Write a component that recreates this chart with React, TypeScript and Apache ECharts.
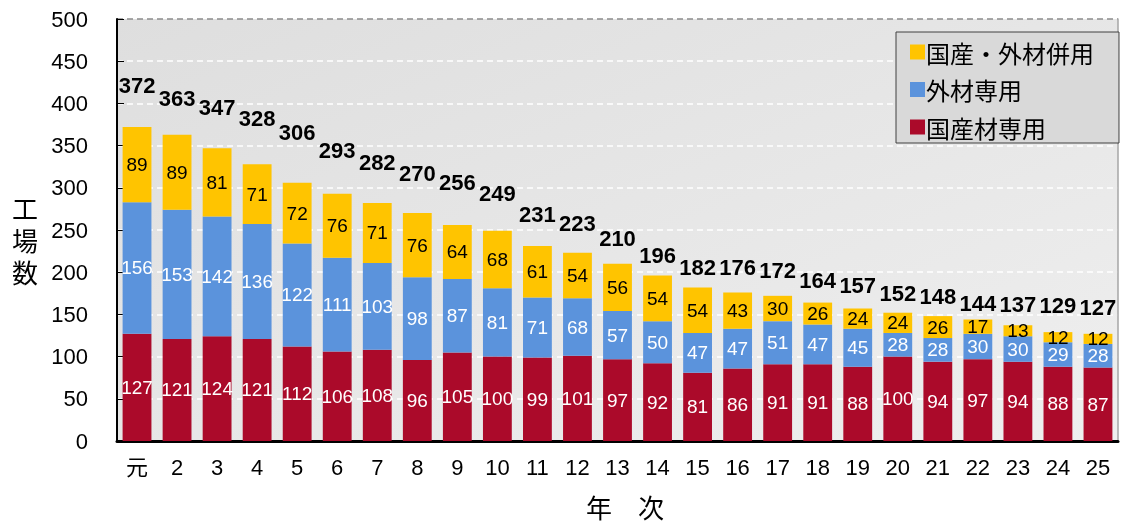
import React, { useEffect, useRef } from "react";
import * as echarts from "echarts";

const categories = ["元", "2", "3", "4", "5", "6", "7", "8", "9", "10", "11", "12", "13", "14", "15", "16", "17", "18", "19", "20", "21", "22", "23", "24", "25"];
const domesticOnly = [127, 121, 124, 121, 112, 106, 108, 96, 105, 100, 99, 101, 97, 92, 81, 86, 91, 91, 88, 100, 94, 97, 94, 88, 87];
const importedOnly = [156, 153, 142, 136, 122, 111, 103, 98, 87, 81, 71, 68, 57, 50, 47, 47, 51, 47, 45, 28, 28, 30, 30, 29, 28];
const mixed = [89, 89, 81, 71, 72, 76, 71, 76, 64, 68, 61, 54, 56, 54, 54, 43, 30, 26, 24, 24, 26, 17, 13, 12, 12];
const totals = [372, 363, 347, 328, 306, 293, 282, 270, 256, 249, 231, 223, 210, 196, 182, 176, 172, 164, 157, 152, 148, 144, 137, 129, 127];
const yTicks = [0, 50, 100, 150, 200, 250, 300, 350, 400, 450, 500];

// style: how far (px) each total label sits above its bar top
const totalLabelLift = [41, 36, 40, 45, 50, 43, 40, 39, 42, 37, 31, 29, 25, 20, 19, 24, 25, 22, 22, 19, 19, 15, 20, 26, 26];

const NAME_MIX = "国産・外材併用";
const NAME_IMP = "外材専用";
const NAME_DOM = "国産材専用";

const JP = '"Noto Sans CJK JP", sans-serif';
const NUM = '"Liberation Sans", "Noto Sans CJK JP", sans-serif';

export default function App() {
  const ref = useRef<HTMLDivElement>(null);
  useEffect(() => {
    if (!ref.current) return;
    const chart = echarts.init(ref.current, null, { renderer: "svg" });
    const splitColors = yTicks.map((v, i) => (i === yTicks.length - 1 ? "#8c8c8c" : "#ffffff"));
    const innerLabel = (color: string) => ({
      show: true,
      position: "inside" as const,
      color,
      fontSize: 19,
      fontFamily: NUM,
    });
    chart.setOption({
      animation: false,
      textStyle: { fontFamily: JP },
      grid: {
        left: 117,
        top: 19,
        right: 5,
        bottom: 81,
        show: true,
        borderWidth: 0,
        backgroundColor: {
          type: "linear",
          x: 0, y: 0, x2: 1, y2: 1,
          colorStops: [
            { offset: 0, color: "#dedede" },
            { offset: 1, color: "#efefef" },
          ],
        },
      },
      legend: {
        data: [NAME_MIX, NAME_IMP, NAME_DOM],
        orient: "vertical",
        left: 896,
        top: 32,
        padding: [8, 25, 4, 14],
        itemGap: 13.5,
        itemWidth: 15,
        itemHeight: 15,
        icon: "rect",
        backgroundColor: "#d9d9d9",
        borderColor: "#404040",
        borderWidth: 1,
        textStyle: { fontSize: 24, lineHeight: 24, color: "#000", fontFamily: JP, padding: [0, 0, 0, -4] },
      },
      xAxis: {
        type: "category",
        data: categories,
        axisLine: { lineStyle: { color: "#000", width: 3 } },
        axisTick: { inside: true, length: 7, lineStyle: { color: "#000", width: 1 } },
        axisLabel: { color: "#000", fontSize: 22, fontFamily: NUM, margin: 15 },
      },
      yAxis: [
        {
          type: "value",
          min: 0,
          max: 500,
          interval: 50,
          axisLine: { show: true, lineStyle: { color: "#000", width: 2 } },
          axisTick: { show: true, inside: true, length: 7, lineStyle: { color: "#000" } },
          axisLabel: { color: "#000", fontSize: 22, fontFamily: NUM, margin: 29 },
          splitLine: { show: true, lineStyle: { color: splitColors, type: [6, 4], width: 1.5 } },
        },
        {
          type: "value",
          min: 0,
          max: 500,
          interval: 50,
          position: "right",
          axisLine: { show: true, lineStyle: { color: "#a6a6a6", width: 1.5 } },
          axisTick: { show: false },
          axisLabel: { show: false },
          splitLine: { show: false },
        },
      ],
      series: [
        {
          name: NAME_DOM,
          type: "bar",
          stack: "t",
          barWidth: "72%",
          data: domesticOnly,
          itemStyle: { color: "#ab0a2a" },
          label: innerLabel("#ffffff"),
        },
        {
          name: NAME_IMP,
          type: "bar",
          stack: "t",
          barWidth: "72%",
          data: importedOnly,
          itemStyle: { color: "#5b93dc" },
          label: innerLabel("#ffffff"),
        },
        {
          name: NAME_MIX,
          type: "bar",
          stack: "t",
          barWidth: "72%",
          data: mixed,
          itemStyle: { color: "#ffc400" },
          label: innerLabel("#000000"),
        },
        {
          name: "合計",
          type: "line",
          data: totals.map((v, i) => ({
            value: v,
            label: { offset: [0, -(totalLabelLift[i] - 11)] },
          })),
          symbol: "circle",
          symbolSize: 1,
          itemStyle: { color: "transparent" },
          lineStyle: { opacity: 0 },
          z: 5,
          label: {
            show: true,
            position: "top",
            distance: 0,
            color: "#000",
            fontSize: 22,
            fontWeight: "bold",
            fontFamily: NUM,
          },
        },
      ],
      graphic: [
        {
          type: "text",
          left: 12,
          top: 191,
          style: {
            text: "工\n場\n数",
            fontSize: 26,
            lineHeight: 32,
            fill: "#000",
            fontFamily: JP,
          },
        },
        {
          type: "text",
          x: 625,
          y: 506,
          style: {
            text: "年　次",
            fontSize: 26,
            lineHeight: 26,
            fill: "#000",
            fontFamily: JP,
            align: "center",
            verticalAlign: "middle",
          },
        },
      ],
    });
    return () => chart.dispose();
  }, []);
  return <div ref={ref} style={{ position: "fixed", left: 0, top: 0, width: 1123, height: 522 }} />;
}
